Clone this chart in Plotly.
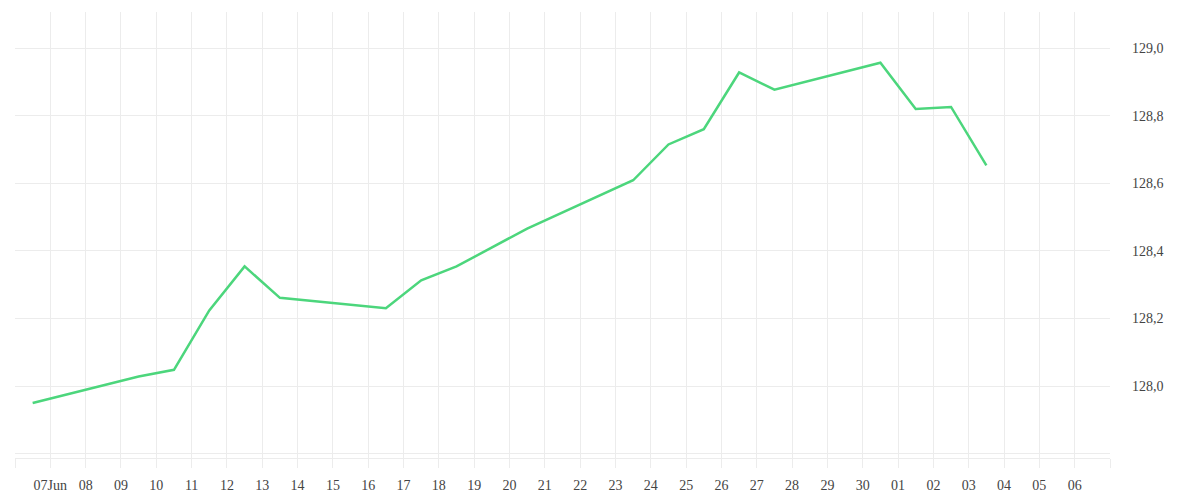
import plotly.graph_objects as go

dates = ["2025-06-06 12:00", "2025-06-09 12:00", "2025-06-10 12:00", "2025-06-11 12:00",
         "2025-06-12 12:00", "2025-06-13 12:00", "2025-06-16 12:00", "2025-06-17 12:00",
         "2025-06-18 12:00", "2025-06-19 12:00", "2025-06-20 12:00", "2025-06-23 12:00",
         "2025-06-24 12:00", "2025-06-25 12:00", "2025-06-26 12:00", "2025-06-27 12:00",
         "2025-06-30 12:00", "2025-07-01 12:00", "2025-07-02 12:00", "2025-07-03 12:00"]
values = [127.950, 128.028, 128.048, 128.224, 128.354, 128.261, 128.230, 128.313,
          128.354, 128.410, 128.466, 128.609, 128.715, 128.760, 128.928, 128.877,
          128.957, 128.820, 128.826, 128.653]

tick_dates = ["2025-06-06", "2025-06-07", "2025-06-08", "2025-06-09", "2025-06-10", "2025-06-11",
              "2025-06-12", "2025-06-13", "2025-06-14", "2025-06-15", "2025-06-16", "2025-06-17",
              "2025-06-18", "2025-06-19", "2025-06-20", "2025-06-21", "2025-06-22", "2025-06-23",
              "2025-06-24", "2025-06-25", "2025-06-26", "2025-06-27", "2025-06-28", "2025-06-29",
              "2025-06-30", "2025-07-01", "2025-07-02", "2025-07-03", "2025-07-04", "2025-07-05",
              "2025-07-06", "2025-07-07"]
tick_labels = ["", "07Jun", "08", "09", "10", "11", "12", "13", "14", "15", "16", "17", "18",
               "19", "20", "21", "22", "23", "24", "25", "26", "27", "28", "29", "30", "01",
               "02", "03", "04", "05", "06", ""]

y_ticks = [127.8, 128.0, 128.2, 128.4, 128.6, 128.8, 129.0]
y_labels = ["", "128,0", "128,2", "128,4", "128,6", "128,8", "129,0"]

grid = "#ececec"
fontfam = "Liberation Serif"

fig = go.Figure()
fig.add_trace(go.Scatter(x=dates, y=values, mode="lines",
                         line=dict(color="#4cd67c", width=2.5), hoverinfo="skip"))

fig.update_layout(
    width=1200, height=500,
    margin=dict(l=7, r=98, t=4, b=50),
    paper_bgcolor="white", plot_bgcolor="white",
    showlegend=False,
    font=dict(family=fontfam, size=14, color="#444444"),
    xaxis=dict(
        type="date",
        range=["2025-06-06", "2025-07-07"],
        tickmode="array", tickvals=tick_dates, ticktext=tick_labels,
        showgrid=True, gridcolor=grid, gridwidth=1,
        ticks="outside", ticklen=9, tickcolor=grid, tickwidth=1,
        showline=True, linecolor=grid, linewidth=1,
        zeroline=False,
        ticklabelstandoff=5,
        tickfont=dict(family=fontfam, size=14, color="#444444"),
    ),
    yaxis=dict(
        side="right",
        range=[127.787, 129.107],
        tickmode="array", tickvals=y_ticks, ticktext=y_labels,
        showgrid=True, gridcolor=grid, gridwidth=1,
        ticks="", showline=False, zeroline=False,
        ticklabelstandoff=21,
        tickfont=dict(family=fontfam, size=14, color="#444444"),
    ),
)

fig.write_html("out.html")
